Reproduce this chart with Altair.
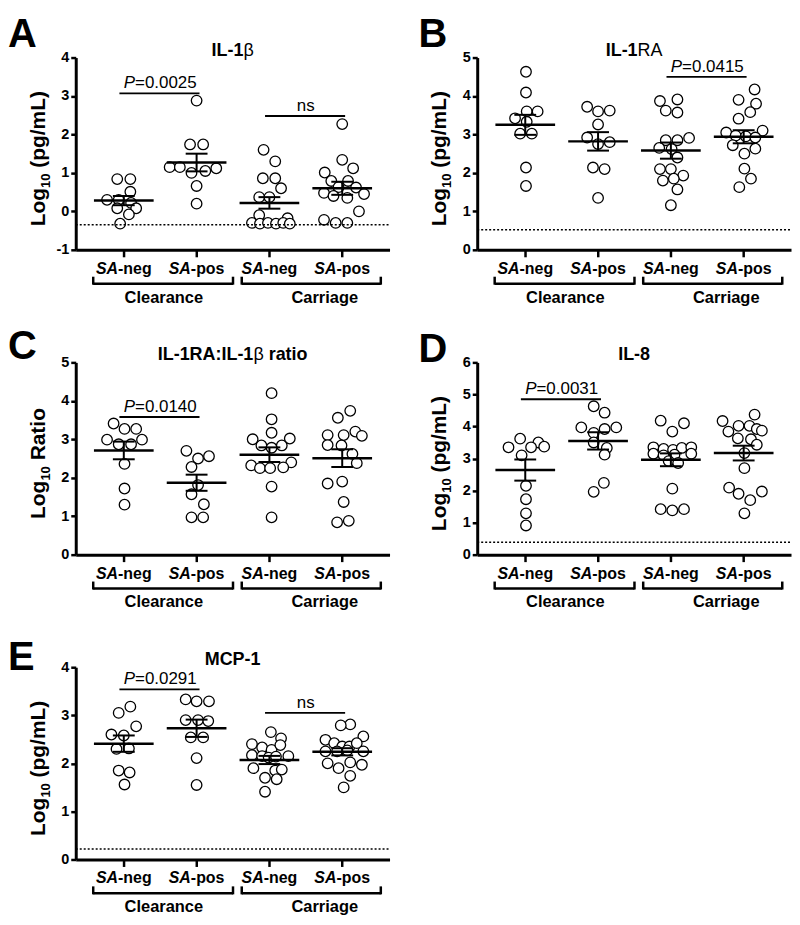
import altair as alt
import pandas as pd

FONT = "Liberation Sans"
W, H = 315, 193
XDOM = [0.34, 4.65]

# ---- shared category layout ----
CAT_POS = [1, 2, 3, 4]
CAT_PREFIX = ["SA", "SA", "SA", "SA"]
CAT_SUFFIX = ["-neg", "-pos", "-neg", "-pos"]
GROUP_NAMES = ["Clearance", "Carriage"]
GROUP_LABEL_POS = [1.55, 3.76]
BRACKET_START = [0.58, 2.62]
BRACKET_END = [2.50, 4.53]

# ---- Panel A: IL-1b ----
A_vals = [
    [0.84, 0.84, 0.51, 0.30, 0.30, 0.22, 0.08, 0.08, -0.08, -0.32],
    [2.88, 1.74, 1.74, 1.15, 1.15, 1.00, 1.05, 1.12, 0.66, 0.20],
    [1.60, 1.30, 0.86, 0.86, 0.60, 0.37, 0.37, -0.10, -0.18, -0.30, -0.32, -0.30, -0.32, -0.30, -0.32],
    [2.27, 1.34, 1.12, 1.01, 0.79, 0.79, 0.63, 0.62, 0.48, 0.45, 0.40, 0.35, 0.00, -0.22, -0.30, -0.30],
]
A_offs = [
    [-0.09, 0.09, 0.09, -0.23, -0.07, 0.10, -0.09, 0.17, 0.07, -0.05],
    [0.00, -0.09, 0.09, -0.37, -0.23, -0.07, 0.12, 0.27, 0.00, 0.00],
    [-0.08, 0.08, -0.09, 0.08, 0.16, -0.14, 0.00, -0.14, 0.25, -0.24, -0.13, -0.02, 0.09, 0.19, 0.28],
    [0.00, 0.00, 0.15, -0.24, -0.15, 0.08, -0.05, 0.19, -0.25, 0.30, -0.12, 0.07, 0.23, -0.25, -0.09, 0.07],
]
A_mean = [0.28, 1.27, 0.22, 0.60]
A_sem = [0.12, 0.23, 0.15, 0.17]

# ---- Panel B: IL-1RA ----
B_vals = [
    [4.63, 4.09, 3.60, 3.60, 3.42, 3.33, 3.02, 3.02, 2.14, 1.66],
    [3.72, 3.60, 3.62, 3.26, 2.92, 2.75, 2.80, 2.14, 2.10, 1.35],
    [3.91, 3.87, 3.62, 3.57, 2.91, 2.85, 2.85, 2.65, 2.62, 2.40, 2.10, 2.10, 1.93, 1.85, 1.80, 1.57, 1.16],
    [4.17, 3.90, 3.80, 3.58, 3.41, 3.10, 3.05, 2.97, 2.95, 2.92, 2.72, 2.63, 2.50, 2.11, 1.85, 1.63],
]
B_offs = [
    [0.01, 0.01, 0.02, 0.17, -0.14, 0.02, -0.07, 0.09, 0.01, 0.01],
    [-0.15, 0.00, 0.16, 0.00, -0.15, 0.00, 0.16, -0.07, 0.09, 0.00],
    [0.09, -0.15, -0.07, 0.09, 0.25, -0.07, 0.09, -0.16, 0.01, 0.09, -0.15, 0.00, 0.17, 0.04, -0.11, 0.09, 0.00],
    [0.15, -0.07, 0.17, 0.09, -0.07, 0.26, -0.24, -0.11, 0.03, 0.16, -0.15, 0.16, 0.01, 0.01, 0.10, -0.06],
]
B_mean = [3.25, 2.82, 2.58, 2.94]
B_sem = [0.26, 0.24, 0.21, 0.17]

# ---- Panel C: IL-1RA:IL-1b ratio ----
C_vals = [
    [3.41, 3.27, 3.27, 2.99, 2.87, 2.87, 2.99, 2.36, 1.72, 1.30],
    [2.70, 2.50, 2.56, 2.28, 1.81, 1.57, 1.31, 0.97, 0.97],
    [4.20, 3.52, 3.17, 3.02, 3.00, 2.84, 2.84, 2.78, 2.40, 2.32, 2.25, 2.25, 2.27, 1.77, 0.97],
    [3.74, 3.56, 3.20, 3.11, 3.11, 3.09, 2.85, 2.84, 2.62, 2.38, 1.90, 1.85, 1.37, 0.88, 0.84],
]
C_offs = [
    [-0.14, 0.01, 0.17, -0.23, -0.07, 0.10, 0.25, 0.01, 0.01, 0.01],
    [-0.14, 0.02, 0.17, -0.07, 0.02, -0.07, 0.10, -0.07, 0.09],
    [0.03, 0.03, 0.03, 0.28, -0.23, -0.11, 0.17, 0.03, 0.30, -0.25, -0.13, 0.01, 0.19, 0.03, 0.03],
    [0.11, -0.06, 0.18, -0.20, 0.02, 0.27, -0.20, -0.01, 0.14, 0.20, 0.00, -0.20, 0.02, 0.09, -0.07],
]
C_mean = [2.71, 1.87, 2.60, 2.51]
C_sem = [0.23, 0.21, 0.19, 0.23]

# ---- Panel D: IL-8 ----
D_vals = [
    [3.62, 3.50, 3.37, 3.35, 3.35, 3.10, 2.15, 1.73, 1.29, 0.91],
    [4.63, 4.43, 3.97, 3.80, 3.92, 3.97, 3.50, 3.33, 3.12, 2.24, 1.96],
    [4.18, 4.10, 3.84, 3.35, 3.30, 3.27, 3.33, 3.35, 3.15, 3.10, 3.12, 3.15, 2.92, 2.86, 2.06, 1.42, 1.38, 1.42],
    [4.37, 4.17, 4.02, 4.02, 3.92, 3.87, 3.84, 3.63, 3.60, 3.43, 3.17, 2.70, 2.09, 1.90, 1.97, 1.70, 1.29],
]
D_offs = [
    [-0.07, 0.18, 0.26, -0.23, 0.08, -0.05, 0.01, 0.01, 0.01, 0.01],
    [-0.06, 0.09, -0.23, -0.06, 0.09, 0.25, -0.06, 0.12, 0.09, 0.08, -0.06],
    [-0.14, 0.18, 0.02, -0.24, -0.10, 0.03, 0.15, 0.28, -0.24, -0.10, 0.05, 0.28, -0.03, 0.10, 0.02, -0.14, 0.02, 0.18],
    [0.15, -0.29, -0.07, 0.08, 0.18, 0.25, -0.21, -0.08, 0.10, 0.18, 0.01, 0.01, -0.20, -0.07, 0.25, 0.09, 0.01],
]
D_mean = [2.64, 3.55, 2.96, 3.17]
D_sem = [0.33, 0.27, 0.20, 0.23]

# ---- Panel E: MCP-1 ----
E_vals = [
    [3.18, 3.05, 2.77, 2.60, 2.58, 2.30, 2.31, 1.85, 1.81, 1.56],
    [3.33, 3.29, 3.29, 2.90, 2.90, 2.88, 2.54, 2.54, 2.11, 1.55],
    [2.65, 2.52, 2.40, 2.33, 2.28, 2.38, 2.17, 2.15, 2.12, 2.14, 2.15, 1.90, 1.85, 1.87, 1.70, 1.67, 1.41],
    [2.81, 2.79, 2.56, 2.49, 2.42, 2.35, 2.35, 2.42, 2.25, 2.25, 2.27, 2.25, 2.00, 1.90, 2.02, 1.97, 1.74, 1.50],
]
E_offs = [
    [0.09, -0.07, 0.17, -0.17, 0.00, -0.10, 0.07, -0.07, 0.08, 0.01],
    [-0.15, 0.00, 0.17, -0.15, 0.02, 0.16, -0.08, 0.09, 0.00, 0.00],
    [0.02, 0.16, -0.24, -0.10, 0.03, 0.15, -0.24, -0.10, -0.01, 0.09, 0.26, -0.22, 0.08, 0.17, -0.06, 0.10, -0.06],
    [0.11, -0.02, 0.29, -0.23, -0.11, 0.00, 0.10, 0.20, -0.23, -0.07, 0.07, 0.29, -0.20, -0.05, 0.11, 0.27, 0.11, 0.02],
]
E_mean = [2.41, 2.73, 2.07, 2.24]
E_sem = [0.17, 0.18, 0.085, 0.075]

# ---- text width estimates (Arial metrics, per 1000 em) ----
REG = {' ': 278, '(': 333, ')': 333, '-': 333, '.': 278, '/': 278, ':': 278, '=': 584,
       'A': 667, 'C': 722, 'I': 278, 'L': 556, 'M': 833, 'P': 667, 'R': 722, 'S': 667,
       'a': 556, 'c': 500, 'e': 556, 'g': 556, 'i': 222, 'l': 222, 'm': 833, 'n': 556,
       'o': 556, 'p': 556, 'r': 333, 's': 500, 't': 278, 'β': 575}
BOLD = {' ': 278, '(': 333, ')': 333, '-': 333, '.': 278, '/': 278, ':': 333, '=': 584,
        'A': 722, 'C': 722, 'I': 278, 'L': 611, 'M': 833, 'P': 667, 'R': 722, 'S': 667,
        'a': 556, 'c': 556, 'e': 556, 'g': 611, 'i': 278, 'l': 278, 'm': 889, 'n': 611,
        'o': 611, 'p': 611, 'r': 389, 's': 556, 't': 333, 'β': 575}


def tw(s, size, weight):
    tbl = BOLD if weight == "bold" else REG
    return sum(tbl.get(ch, 556) for ch in s) / 1000.0 * size


ONE = pd.DataFrame({"k": [0]})


def text_run(parts, df, xenc, yenc, angle=0, centered=True):
    total = sum(tw(t, sz, wt) for t, sz, wt, st, ddy in parts)
    cur = -total / 2.0 if centered else 0.0
    out = []
    for t, sz, wt, st, ddy in parts:
        body = t.lstrip(" ")
        lead = tw(t[: len(t) - len(body)], sz, wt)
        out.append(
            alt.Chart(df).mark_text(
                font=FONT, fontSize=sz, fontWeight=wt, fontStyle=st, align="left",
                baseline="alphabetic", angle=angle, dx=cur + lead, dy=ddy, color="black"
            ).encode(x=xenc, y=yenc, text=alt.value(body))
        )
        cur += tw(t, sz, wt)
    return out


def panel(letter, letter_dx, letter_dy, title_parts, ylab_parts, ydom, vals, offs,
          means, sems, lod, annots):
    xsc = alt.Scale(domain=XDOM, nice=False, zero=False)
    ysc = alt.Scale(domain=ydom, nice=False, zero=False)
    xaxis = alt.Axis(values=CAT_POS, labels=False, title=None, grid=False,
                     domainColor="black", domainWidth=3, tickColor="black",
                     tickWidth=2.5, tickSize=7)
    yaxis = alt.Axis(values=list(range(ydom[0], ydom[1] + 1)), labelExpr="datum.value",
                     title=None, grid=False, domainColor="black", domainWidth=3,
                     tickColor="black", tickWidth=2.5, tickSize=5, labelFont=FONT,
                     labelFontSize=14.5, labelFontWeight="bold", labelColor="black",
                     labelPadding=2)

    def X(f):
        return alt.X(f, scale=xsc, axis=xaxis)

    def Y(f):
        return alt.Y(f, scale=ysc, axis=yaxis)

    rows = []
    for g in range(4):
        for v, o in zip(vals[g], offs[g]):
            rows.append({"pos": CAT_POS[g] + o, "val": v})
    pdf = pd.DataFrame(rows)
    sdf = pd.DataFrame({"pos": CAT_POS, "m": means, "s": sems})

    layers = []
    # points
    layers.append(alt.Chart(pdf).mark_point(
        shape="circle", filled=True, fill="white", stroke="black", strokeWidth=1.3,
        size=112, opacity=1).encode(x=X("pos:Q"), y=Y("val:Q")))
    # LOD dotted line
    if lod is not None:
        layers.append(alt.Chart(pd.DataFrame({"lod": [lod]})).mark_rule(
            color="black", strokeWidth=1.5, strokeDash=[2, 2]).encode(
            y=Y("lod:Q"), x=alt.value(0), x2=alt.value(W)))
    # mean and SEM
    base = alt.Chart(sdf).transform_calculate(
        x1="datum.pos - 0.41", x2="datum.pos + 0.41",
        c1="datum.pos - 0.15", c2="datum.pos + 0.15",
        lo="datum.m - datum.s", hi="datum.m + datum.s")
    layers.append(base.mark_rule(color="black", strokeWidth=2.5).encode(
        x=X("x1:Q"), x2="x2:Q", y=Y("m:Q")))
    layers.append(base.mark_rule(color="black", strokeWidth=2).encode(
        x=X("pos:Q"), y=Y("lo:Q"), y2="hi:Q"))
    for f in ["lo", "hi"]:
        layers.append(base.mark_rule(color="black", strokeWidth=2).encode(
            x=X("c1:Q"), x2="c2:Q", y=Y(f + ":Q")))
    # significance annotations
    for c1, c2, yv, lab in annots:
        adf = pd.DataFrame({"a": [CAT_POS[c1] - 0.06], "b": [CAT_POS[c2] + 0.04],
                            "mid": [(CAT_POS[c1] + CAT_POS[c2]) / 2.0], "y": [yv]})
        layers.append(alt.Chart(adf).mark_rule(color="black", strokeWidth=1.8).encode(
            x=X("a:Q"), x2="b:Q", y=Y("y:Q")))
        if lab == "ns":
            parts = [("ns", 17, "normal", "normal", -5)]
        else:
            parts = [("P", 17, "normal", "italic", -5), (lab, 17, "normal", "normal", -5)]
        layers += text_run(parts, adf, X("mid:Q"), Y("y:Q"))
    # category labels
    cdf = pd.DataFrame({"pos": CAT_POS, "pre": CAT_PREFIX, "suf": CAT_SUFFIX})
    tot = tw("SA", 16, "bold") + tw("-neg", 16, "bold")
    join = -tot / 2.0 + tw("SA", 16, "bold")
    layers.append(alt.Chart(cdf).mark_text(
        font=FONT, fontSize=16, fontWeight="bold", fontStyle="italic", align="right",
        baseline="alphabetic", dx=join, color="black").encode(
        x=X("pos:Q"), y=alt.value(H + 24), text="pre:N"))
    layers.append(alt.Chart(cdf).mark_text(
        font=FONT, fontSize=16, fontWeight="bold", align="left",
        baseline="alphabetic", dx=join, color="black").encode(
        x=X("pos:Q"), y=alt.value(H + 24), text="suf:N"))
    # brackets and group labels
    bdf = pd.DataFrame({"b1": BRACKET_START, "b2": BRACKET_END,
                        "gp": GROUP_LABEL_POS, "gn": GROUP_NAMES})
    layers.append(alt.Chart(bdf).mark_rule(color="black", strokeWidth=2.5).encode(
        x=X("b1:Q"), x2="b2:Q", y=alt.value(H + 34)))
    for f in ["b1", "b2"]:
        layers.append(alt.Chart(bdf).mark_rule(color="black", strokeWidth=2.5).encode(
            x=X(f + ":Q"), y=alt.value(H + 27), y2=alt.value(H + 35)))
    layers.append(alt.Chart(bdf).mark_text(
        font=FONT, fontSize=16.5, fontWeight="bold", align="center",
        baseline="alphabetic", color="black").encode(
        x=X("gp:Q"), y=alt.value(H + 53), text="gn:N"))
    # panel title
    layers += text_run(title_parts, ONE, alt.value(W / 2.0), alt.value(-2))
    # y-axis title (rotated)
    layers += text_run(ylab_parts, ONE, alt.value(-31), alt.value(H / 2.0 + 5), angle=270)
    # panel letter
    layers.append(alt.Chart(ONE).mark_text(
        font=FONT, fontSize=40, fontWeight="bold", align="left", baseline="alphabetic",
        color="black").encode(x=alt.value(letter_dx), y=alt.value(letter_dy),
                              text=alt.value(letter)))
    return alt.layer(*layers).properties(width=W, height=H)


YL_PG = [("Log", 21, "bold", "normal", 0), ("10", 13, "bold", "normal", 5),
         (" (pg/mL)", 21, "bold", "normal", 0)]
YL_RATIO = [("Log", 21, "bold", "normal", 0), ("10", 13, "bold", "normal", 5),
            (" Ratio", 21, "bold", "normal", 0)]
TS = 18

pA = panel("A", -68, -11, [("IL-1", TS, "bold", "normal", 0), ("β", TS, "normal", "normal", 0)],
           YL_PG, [-1, 4], A_vals, A_offs, A_mean, A_sem, -0.35,
           [(0, 1, 3.07, "=0.0025"), (2, 3, 2.48, "ns")])
pB = panel("B", -59, -11, [("IL-1", TS, "bold", "normal", 0), ("RA", TS, "normal", "normal", 0)],
           YL_PG, [0, 5], B_vals, B_offs, B_mean, B_sem, 0.52,
           [(2, 3, 4.50, "=0.0415")])
pC = panel("C", -68, -3, [("IL-1RA:IL-1", TS, "bold", "normal", 0), ("β", TS, "normal", "normal", 0),
                          (" ratio", TS, "bold", "normal", 0)],
           YL_RATIO, [0, 5], C_vals, C_offs, C_mean, C_sem, None,
           [(0, 1, 3.58, "=0.0140")])
pD = panel("D", -59, 0, [("IL-8", TS, "bold", "normal", 0)],
           YL_PG, [0, 6], D_vals, D_offs, D_mean, D_sem, 0.39,
           [(0, 1, 4.85, "=0.0031")])
pE = panel("E", -68, 3, [("MCP-1", TS, "bold", "normal", 0)],
           YL_PG, [0, 4], E_vals, E_offs, E_mean, E_sem, 0.22,
           [(0, 1, 3.54, "=0.0291"), (2, 3, 3.05, "ns")])

chart = alt.concat(pA, pB, pC, pD, pE, columns=2, spacing={"row": 113, "column": 88},
                   bounds="flush").properties(
    padding={"top": 5, "left": 0, "right": 0, "bottom": 0}, background="white"
).configure_view(strokeWidth=0)

chart.save("out.html", embed_options={"renderer": "svg", "actions": False})
